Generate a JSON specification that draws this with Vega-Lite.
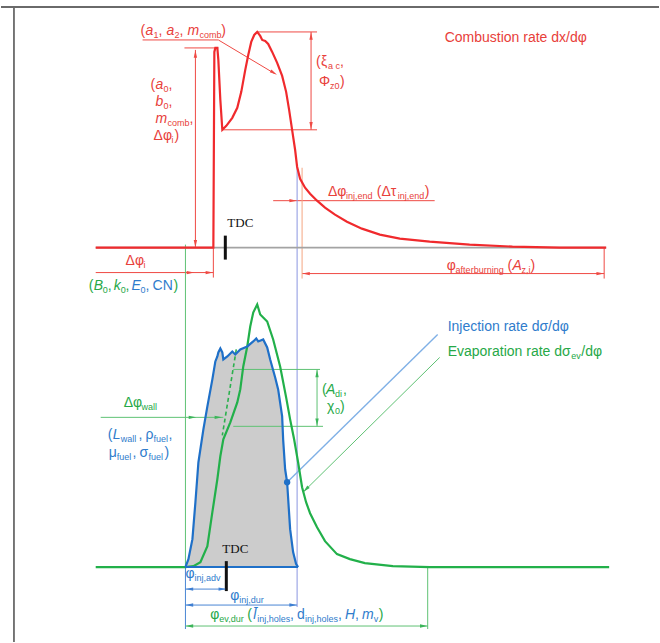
{
 "$schema": "https://vega.github.io/schema/vega-lite/v6.json",
 "width": 660, "height": 643,
 "autosize": {"type": "fit", "contains": "padding"},
 "padding": 0,
 "background": "white",
 "config": {"view": {"stroke": null}, "text": {"font": "Liberation Sans"}},
 "datasets": {
  "comb": [
   {"x":95,"y":248},{"x":213,"y":248},{"x":214,"y":52},{"x":215,"y":48},{"x":217,"y":48},{"x":218,"y":60},{"x":220,"y":100},{"x":222,"y":130},{"x":226,"y":126},{"x":232,"y":118},{"x":237,"y":108},{"x":241,"y":92},{"x":245,"y":70},{"x":248,"y":55},{"x":251,"y":42},{"x":254,"y":35},{"x":257,"y":32},{"x":260,"y":36},{"x":262,"y":40},{"x":265,"y":41},{"x":268,"y":44},{"x":272,"y":52},{"x":277,"y":63},{"x":282,"y":76},{"x":286,"y":92},{"x":289,"y":110},{"x":292,"y":130},{"x":295,"y":150},{"x":297,"y":167},{"x":300,"y":179},{"x":305,"y":188},{"x":310,"y":194},{"x":317,"y":201},{"x":325,"y":208},{"x":335,"y":215},{"x":347,"y":222},{"x":362,"y":229},{"x":380,"y":235},{"x":400,"y":239},{"x":430,"y":242},{"x":470,"y":245},{"x":513,"y":247},{"x":560,"y":248},{"x":607,"y":248}
  ],
  "inj": [
   {"x":185,"y":568},{"x":188,"y":560},{"x":192,"y":540},{"x":195,"y":503},{"x":198,"y":463},{"x":203,"y":430},{"x":207,"y":407},{"x":212,"y":380},{"x":215,"y":362},{"x":217,"y":357},{"x":218,"y":353},{"x":220,"y":349},{"x":222,"y":353},{"x":223,"y":360},{"x":227,"y":357},{"x":232,"y":352},{"x":235,"y":355},{"x":240,"y":350},{"x":247,"y":347},{"x":253,"y":342},{"x":256,"y":339},{"x":258,"y":342},{"x":263,"y":340},{"x":267,"y":348},{"x":270,"y":360},{"x":275,"y":378},{"x":278,"y":390},{"x":282,"y":417},{"x":283,"y":440},{"x":285,"y":470},{"x":287,"y":483},{"x":290,"y":530},{"x":293,"y":553},{"x":296,"y":565},{"x":298,"y":568}
  ],
  "evap": [
   {"x":95,"y":568},{"x":185,"y":568},{"x":193,"y":567},{"x":200,"y":563},{"x":207,"y":547},{"x":212,"y":513},{"x":217,"y":480},{"x":220,"y":457},{"x":223,"y":440},{"x":230,"y":423},{"x":237,"y":403},{"x":240,"y":390},{"x":243,"y":367},{"x":247,"y":347},{"x":250,"y":327},{"x":253,"y":313},{"x":257,"y":305},{"x":260,"y":315},{"x":263,"y":318},{"x":267,"y":322},{"x":273,"y":340},{"x":280,"y":367},{"x":286,"y":398},{"x":290,"y":420},{"x":294,"y":440},{"x":298,"y":463},{"x":302,"y":488},{"x":306,"y":503},{"x":310,"y":514},{"x":317,"y":528},{"x":325,"y":542},{"x":337,"y":555},{"x":350,"y":560},{"x":365,"y":564},{"x":393,"y":567},{"x":430,"y":568},{"x":610,"y":568}
  ],
  "segs": [
   {"x":0,"y":7,"x2":660,"y2":7,"k":"frame"},
   {"x":13,"y":7,"x2":13,"y2":643,"k":"frame"},
   {"x":95,"y":248,"x2":607,"y2":248,"k":"gray"},
   {"x":185,"y":568,"x2":298,"y2":568,"k":"bluec"},
   {"x":142,"y":40,"x2":218,"y2":40,"k":"red"},
   {"x":218,"y":40,"x2":275,"y2":74,"k":"red"},
   {"x":184,"y":48,"x2":218,"y2":48,"k":"red"},
   {"x":195,"y":50,"x2":195,"y2":248,"k":"red"},
   {"x":257,"y":32,"x2":317,"y2":32,"k":"red"},
   {"x":222,"y":130,"x2":317,"y2":130,"k":"red"},
   {"x":311,"y":32,"x2":311,"y2":130,"k":"red"},
   {"x":273,"y":201,"x2":435,"y2":201,"k":"red"},
   {"x":213,"y":248,"x2":213,"y2":278,"k":"red"},
   {"x":95,"y":273,"x2":213,"y2":273,"k":"red"},
   {"x":302,"y":274,"x2":605,"y2":274,"k":"red"},
   {"x":605,"y":248,"x2":605,"y2":279,"k":"red"},
   {"x":302,"y":168,"x2":302,"y2":279,"k":"salmon"},
   {"x":297,"y":165,"x2":297,"y2":608,"k":"bluev"},
   {"x":185,"y":568,"x2":185,"y2":630,"k":"blue"},
   {"x":185,"y":590,"x2":226,"y2":590,"k":"blue"},
   {"x":185,"y":606,"x2":297,"y2":606,"k":"blue"},
   {"x":287,"y":483,"x2":438,"y2":335,"k":"bluel"},
   {"x":185,"y":245,"x2":185,"y2":568,"k":"greenl"},
   {"x":428,"y":568,"x2":428,"y2":630,"k":"greenl"},
   {"x":185,"y":627,"x2":428,"y2":627,"k":"greenl"},
   {"x":100,"y":418,"x2":223,"y2":418,"k":"greenl"},
   {"x":233,"y":370,"x2":320,"y2":370,"k":"greenl"},
   {"x":233,"y":427,"x2":323,"y2":427,"k":"greenl"},
   {"x":317,"y":370,"x2":317,"y2":427,"k":"greenl"},
   {"x":303,"y":493,"x2":440,"y2":358,"k":"greenl"},
   {"x":225,"y":236,"x2":225,"y2":260,"k":"tdc"},
   {"x":226,"y":562,"x2":226,"y2":592,"k":"tdc"}
  ],
  "dashed": [{"x":236,"y":350,"x2":222,"y2":436}],
  "arrows": [
   {"x":273.6,"y":72.9,"d":"se","k":"red"},
   {"x":195,"y":54,"d":"u","k":"red"},
   {"x":195,"y":244,"d":"d","k":"red"},
   {"x":311,"y":36,"d":"u","k":"red"},
   {"x":311,"y":126,"d":"d","k":"red"},
   {"x":293,"y":201,"d":"r","k":"red"},
   {"x":306,"y":274,"d":"l","k":"red"},
   {"x":601,"y":274,"d":"r","k":"red"},
   {"x":190,"y":273,"d":"r","k":"red"},
   {"x":209,"y":273,"d":"r","k":"red"},
   {"x":192,"y":418,"d":"r","k":"green"},
   {"x":218,"y":418,"d":"r","k":"green"},
   {"x":317,"y":374,"d":"u","k":"green"},
   {"x":317,"y":423,"d":"d","k":"green"},
   {"x":189,"y":627,"d":"l","k":"green"},
   {"x":424,"y":627,"d":"r","k":"green"},
   {"x":305.8,"y":490.2,"d":"sw","k":"green"},
   {"x":189,"y":590,"d":"l","k":"blue"},
   {"x":222,"y":590,"d":"r","k":"blue"},
   {"x":189,"y":606,"d":"l","k":"blue"},
   {"x":293,"y":606,"d":"r","k":"blue"}
  ],
  "dots": [{"x":287,"y":483}],
  "txt": [
   {"x":140,"y":35,"t":"(","c":"red","f":"n"},
   {"x":145,"y":35,"t":"a","c":"red","f":"i"},
   {"x":153,"y":38,"t":"1","c":"red","f":"s"},
   {"x":158,"y":35,"t":",","c":"red","f":"n"},
   {"x":166,"y":35,"t":"a","c":"red","f":"i"},
   {"x":174,"y":38,"t":"2","c":"red","f":"s"},
   {"x":179,"y":35,"t":",","c":"red","f":"n"},
   {"x":187,"y":35,"t":"m","c":"red","f":"i"},
   {"x":199,"y":38,"t":"comb","c":"red","f":"s"},
   {"x":221,"y":35,"t":")","c":"red","f":"n"},
   {"x":150,"y":89,"t":"(","c":"red","f":"n"},
   {"x":155,"y":89,"t":"a","c":"red","f":"i"},
   {"x":163,"y":92,"t":"0","c":"red","f":"s"},
   {"x":168,"y":89,"t":",","c":"red","f":"n"},
   {"x":155,"y":106,"t":"b","c":"red","f":"i"},
   {"x":163,"y":109,"t":"0","c":"red","f":"s"},
   {"x":168,"y":106,"t":",","c":"red","f":"n"},
   {"x":155,"y":123,"t":"m","c":"red","f":"i"},
   {"x":167,"y":126,"t":"comb","c":"red","f":"s"},
   {"x":189,"y":123,"t":",","c":"red","f":"n"},
   {"x":153,"y":140,"t":"Δφ","c":"red","f":"n"},
   {"x":171,"y":143,"t":"i","c":"red","f":"s"},
   {"x":174,"y":140,"t":")","c":"red","f":"n"},
   {"x":316,"y":66,"t":"(","c":"red","f":"n"},
   {"x":321,"y":66,"t":"ξ","c":"red","f":"n"},
   {"x":328,"y":69,"t":"a c","c":"red","f":"s"},
   {"x":340,"y":66,"t":",","c":"red","f":"n"},
   {"x":319,"y":86,"t":"Φ","c":"red","f":"n"},
   {"x":330,"y":89,"t":"z0","c":"red","f":"s"},
   {"x":340,"y":86,"t":")","c":"red","f":"n"},
   {"x":445,"y":42,"t":"Combustion rate dx/dφ","c":"red","f":"n"},
   {"x":328,"y":196,"t":"Δφ","c":"red","f":"n"},
   {"x":346,"y":199,"t":"inj,end","c":"red","f":"s"},
   {"x":377,"y":196,"t":"(Δτ","c":"red","f":"n"},
   {"x":398,"y":199,"t":"inj,end","c":"red","f":"s"},
   {"x":425,"y":196,"t":")","c":"red","f":"n"},
   {"x":447,"y":270,"t":"φ","c":"red","f":"n"},
   {"x":456,"y":273,"t":"afterburning","c":"red","f":"s"},
   {"x":508,"y":270,"t":"(","c":"red","f":"n"},
   {"x":513,"y":270,"t":"A","c":"red","f":"i"},
   {"x":522,"y":273,"t":"z,i","c":"red","f":"s"},
   {"x":531,"y":270,"t":")","c":"red","f":"n"},
   {"x":125,"y":265,"t":"Δφ","c":"red","f":"n"},
   {"x":143,"y":268,"t":"i","c":"red","f":"s"},
   {"x":88,"y":290,"t":"(","c":"green","f":"n"},
   {"x":93,"y":290,"t":"B","c":"green","f":"i"},
   {"x":102,"y":293,"t":"0","c":"green","f":"s"},
   {"x":107,"y":290,"t":",","c":"green","f":"n"},
   {"x":113,"y":290,"t":"k","c":"green","f":"i"},
   {"x":120,"y":293,"t":"0","c":"green","f":"s"},
   {"x":125,"y":290,"t":",","c":"green","f":"n"},
   {"x":131,"y":290,"t":"E","c":"blue","f":"i"},
   {"x":140,"y":293,"t":"0","c":"blue","f":"s"},
   {"x":145,"y":290,"t":",","c":"blue","f":"n"},
   {"x":152,"y":290,"t":"CN","c":"blue","f":"n"},
   {"x":173,"y":290,"t":")","c":"green","f":"n"},
   {"x":123,"y":408,"t":"Δφ","c":"green","f":"n"},
   {"x":141,"y":411,"t":"wall","c":"green","f":"s"},
   {"x":107,"y":440,"t":"(","c":"blue","f":"n"},
   {"x":112,"y":440,"t":"L","c":"blue","f":"i"},
   {"x":120,"y":443,"t":"wall","c":"blue","f":"s"},
   {"x":138,"y":440,"t":",","c":"blue","f":"n"},
   {"x":145,"y":440,"t":"ρ","c":"blue","f":"n"},
   {"x":153,"y":443,"t":"fuel","c":"blue","f":"s"},
   {"x":168,"y":440,"t":",","c":"blue","f":"n"},
   {"x":108,"y":458,"t":"μ","c":"blue","f":"n"},
   {"x":116,"y":461,"t":"fuel","c":"blue","f":"s"},
   {"x":132,"y":458,"t":",","c":"blue","f":"n"},
   {"x":139,"y":458,"t":"σ","c":"blue","f":"n"},
   {"x":148,"y":461,"t":"fuel","c":"blue","f":"s"},
   {"x":164,"y":458,"t":")","c":"blue","f":"n"},
   {"x":322,"y":395,"t":"(","c":"green","f":"n"},
   {"x":326,"y":395,"t":"A","c":"green","f":"i"},
   {"x":335,"y":398,"t":"di","c":"green","f":"s"},
   {"x":343,"y":395,"t":",","c":"green","f":"n"},
   {"x":327,"y":412,"t":"χ","c":"green","f":"n"},
   {"x":335,"y":415,"t":"0","c":"green","f":"s"},
   {"x":340,"y":412,"t":")","c":"green","f":"n"},
   {"x":448,"y":332,"t":"Injection rate dσ/dφ","c":"blue","f":"n"},
   {"x":448,"y":357,"t":"Evaporation rate dσ","c":"green","f":"n"},
   {"x":572,"y":360,"t":"ev","c":"green","f":"s"},
   {"x":582,"y":357,"t":"/dφ","c":"green","f":"n"},
   {"x":185,"y":579,"t":"φ","c":"blue","f":"n"},
   {"x":194,"y":582,"t":"inj,adv","c":"blue","f":"s"},
   {"x":230,"y":601,"t":"φ","c":"blue","f":"n"},
   {"x":239,"y":604,"t":"inj,dur","c":"blue","f":"s"},
   {"x":210,"y":620,"t":"φ","c":"green","f":"n"},
   {"x":219,"y":623,"t":"ev,dur","c":"green","f":"s"},
   {"x":247,"y":620,"t":"(","c":"green","f":"n"},
   {"x":253,"y":620,"t":"l̄","c":"blue","f":"i"},
   {"x":257,"y":623,"t":"inj,holes","c":"blue","f":"s"},
   {"x":290,"y":620,"t":",","c":"blue","f":"n"},
   {"x":297,"y":620,"t":"d","c":"blue","f":"n"},
   {"x":305,"y":623,"t":"inj,holes","c":"blue","f":"s"},
   {"x":338,"y":620,"t":",","c":"blue","f":"n"},
   {"x":345,"y":620,"t":"H","c":"blue","f":"i"},
   {"x":355,"y":620,"t":",","c":"blue","f":"n"},
   {"x":362,"y":620,"t":"m","c":"blue","f":"i"},
   {"x":374,"y":623,"t":"v","c":"blue","f":"s"},
   {"x":379,"y":620,"t":")","c":"green","f":"n"},
   {"x":227,"y":227,"t":"TDC","c":"black","f":"t"},
   {"x":222,"y":554,"t":"TDC","c":"black","f":"t"}
  ]
 },
 "encoding": {
  "x": {"field": "x", "type": "quantitative", "scale": {"domain": [0, 660], "nice": false, "zero": false}, "axis": null},
  "y": {"field": "y", "type": "quantitative", "scale": {"domain": [0, 643], "nice": false, "zero": false, "reverse": true}, "axis": null}
 },
 "layer": [
  {"data": {"name": "inj"}, "mark": {"type": "area", "color": "#c6c6c6", "opacity": 0.9}, "encoding": {"y2": {"datum": 568}}},
  {"data": {"name": "segs"}, "transform": [{"filter": {"field": "k", "oneOf": ["red", "salmon", "bluev", "blue", "greenl"]}}],
   "mark": {"type": "rule", "strokeWidth": 1},
   "encoding": {"x2": {"field": "x2"}, "y2": {"field": "y2"},
    "color": {"field": "k", "type": "nominal", "legend": null, "scale": {"domain": ["red", "salmon", "bluev", "blue", "greenl"], "range": ["#ef4a44", "#f4a582", "#8a96e0", "#4a86d4", "#5fc274"]}}}},
  {"data": {"name": "segs"}, "transform": [{"filter": {"field": "k", "oneOf": ["bluel"]}}],
   "mark": {"type": "rule", "strokeWidth": 1.4, "color": "#7fb0e6"},
   "encoding": {"x2": {"field": "x2"}, "y2": {"field": "y2"}}},
  {"data": {"name": "segs"}, "transform": [{"filter": {"field": "k", "oneOf": ["gray", "frame"]}}],
   "mark": {"type": "rule", "strokeWidth": 1.8},
   "encoding": {"x2": {"field": "x2"}, "y2": {"field": "y2"},
    "color": {"field": "k", "type": "nominal", "legend": null, "scale": {"domain": ["gray", "frame"], "range": ["#a3a3a3", "#6a6a6a"]}}}},
  {"data": {"name": "dashed"}, "mark": {"type": "rule", "strokeWidth": 1.6, "strokeDash": [4, 3], "color": "#2cb04e"}, "encoding": {"x2": {"field": "x2"}, "y2": {"field": "y2"}}},
  {"data": {"name": "evap"}, "mark": {"type": "line", "color": "#22b04a", "strokeWidth": 2.2}, "encoding": {}},
  {"data": {"name": "segs"}, "transform": [{"filter": {"field": "k", "oneOf": ["bluec"]}}],
   "mark": {"type": "rule", "strokeWidth": 2, "color": "#1f70c8"}, "encoding": {"x2": {"field": "x2"}, "y2": {"field": "y2"}}},
  {"data": {"name": "inj"}, "mark": {"type": "line", "color": "#1f70c8", "strokeWidth": 2.2}, "encoding": {}},
  {"data": {"name": "comb"}, "mark": {"type": "line", "color": "#f02a2d", "strokeWidth": 2.2}, "encoding": {}},
  {"data": {"name": "segs"}, "transform": [{"filter": {"field": "k", "oneOf": ["tdc"]}}],
   "mark": {"type": "rule", "strokeWidth": 3, "color": "#111111"}, "encoding": {"x2": {"field": "x2"}, "y2": {"field": "y2"}}},
  {"data": {"name": "arrows"}, "mark": {"type": "point", "filled": true, "opacity": 1, "size": 56},
   "encoding": {
    "shape": {"field": "d", "type": "nominal", "legend": null, "scale": {"domain": ["r", "l", "u", "d", "se", "sw"], "range": ["M1,0L-1,-0.45L-1,0.45Z", "M-1,0L1,-0.45L1,0.45Z", "M0,-1L-0.45,1L0.45,1Z", "M0,1L-0.45,-1L0.45,-1Z", "M0.857,0.515L-0.625,-0.901L-1.089,-0.129Z", "M-0.707,0.707L1.025,-0.389L0.389,-1.025Z"]}},
    "color": {"field": "k", "type": "nominal", "legend": null, "scale": {"domain": ["red", "green", "blue"], "range": ["#ef4a44", "#3cb55a", "#3f7fd2"]}}}},
  {"data": {"name": "dots"}, "mark": {"type": "point", "filled": true, "opacity": 1, "size": 40, "shape": "circle", "color": "#1f70c8"}, "encoding": {}},
  {"data": {"name": "txt"}, "transform": [{"filter": "datum.f == 'n'"}],
   "mark": {"type": "text", "align": "left", "baseline": "alphabetic", "fontSize": 14, "font": "Liberation Sans"},
   "encoding": {"text": {"field": "t"}, "color": {"field": "c", "type": "nominal", "legend": null, "scale": {"domain": ["red", "green", "blue", "black"], "range": ["#e8403a", "#26a847", "#2f7ccc", "#111111"]}}}},
  {"data": {"name": "txt"}, "transform": [{"filter": "datum.f == 'i'"}],
   "mark": {"type": "text", "align": "left", "baseline": "alphabetic", "fontSize": 14, "fontStyle": "italic", "font": "Liberation Sans"},
   "encoding": {"text": {"field": "t"}, "color": {"field": "c", "type": "nominal", "legend": null, "scale": {"domain": ["red", "green", "blue", "black"], "range": ["#e8403a", "#26a847", "#2f7ccc", "#111111"]}}}},
  {"data": {"name": "txt"}, "transform": [{"filter": "datum.f == 's'"}],
   "mark": {"type": "text", "align": "left", "baseline": "alphabetic", "fontSize": 9, "font": "Liberation Sans"},
   "encoding": {"text": {"field": "t"}, "color": {"field": "c", "type": "nominal", "legend": null, "scale": {"domain": ["red", "green", "blue", "black"], "range": ["#e8403a", "#26a847", "#2f7ccc", "#111111"]}}}},
  {"data": {"name": "txt"}, "transform": [{"filter": "datum.f == 't'"}],
   "mark": {"type": "text", "align": "left", "baseline": "alphabetic", "fontSize": 13, "font": "Liberation Serif", "color": "#111111"},
   "encoding": {"text": {"field": "t"}}}
 ],
 "resolve": {"scale": {"color": "independent", "shape": "independent"}}
}
